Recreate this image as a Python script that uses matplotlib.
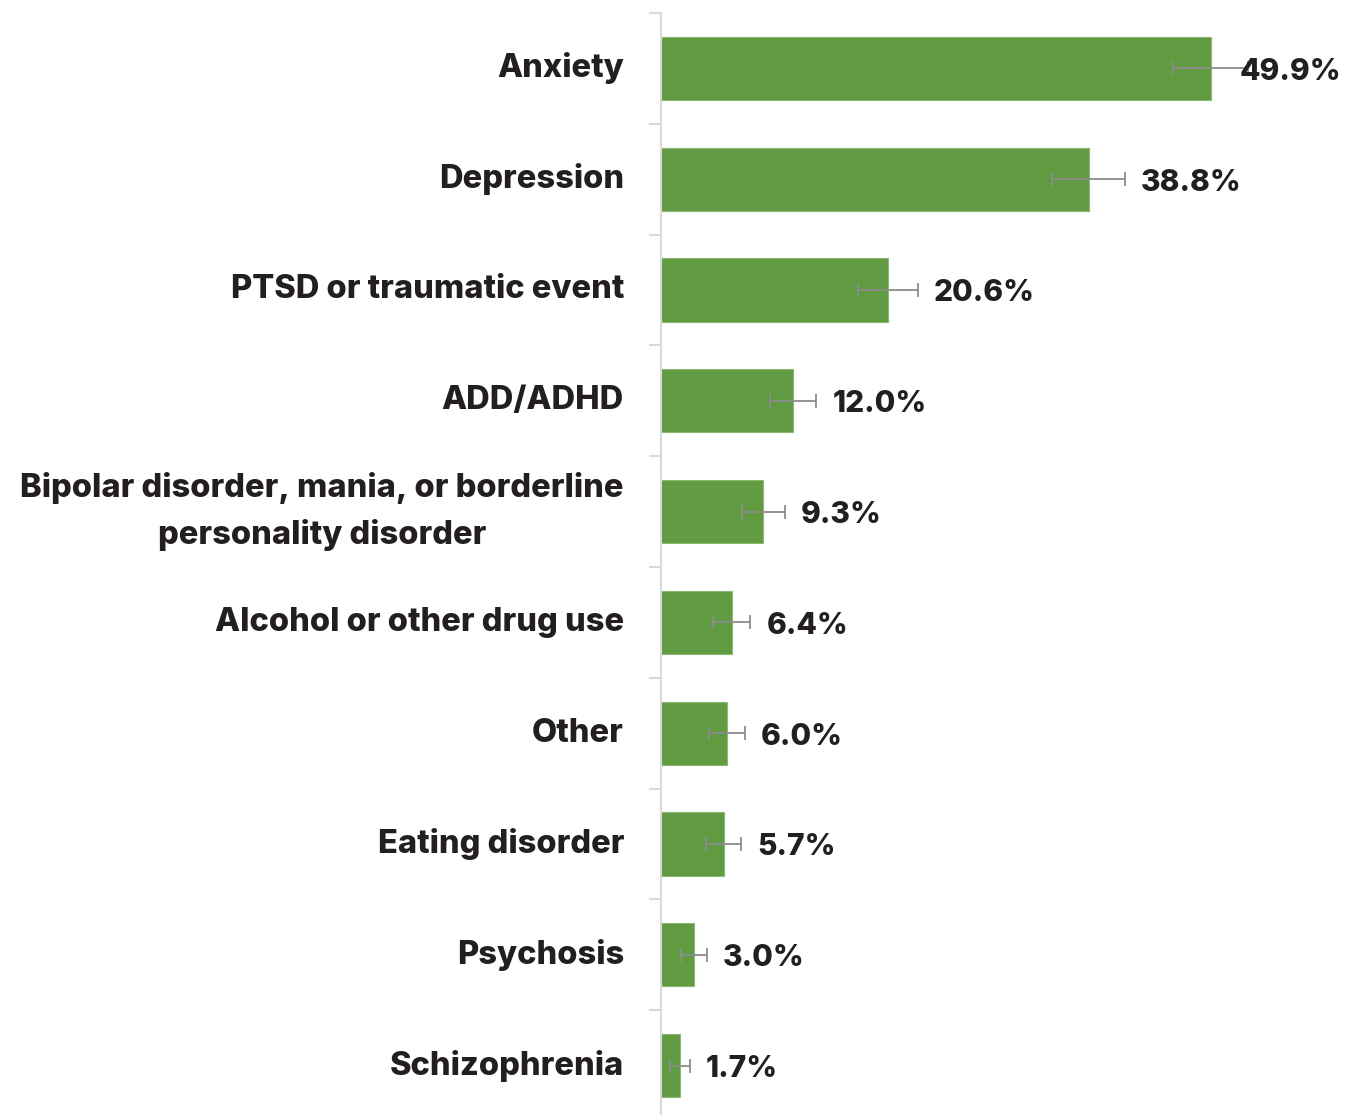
import matplotlib
matplotlib.use("Agg")
import matplotlib.pyplot as plt
import numpy as np

categories = [
    "Anxiety",
    "Depression",
    "PTSD or traumatic event",
    "ADD/ADHD",
    "Bipolar disorder, mania, or borderline\npersonality disorder",
    "Alcohol or other drug use",
    "Other",
    "Eating disorder",
    "Psychosis",
    "Schizophrenia",
]
values = [49.9, 38.8, 20.6, 12.0, 9.3, 6.4, 6.0, 5.7, 3.0, 1.7]
errors = [3.4, 3.3, 2.7, 2.1, 1.95, 1.7, 1.6, 1.6, 1.15, 0.9]
value_labels = ["49.9%", "38.8%", "20.6%", "12.0%", "9.3%", "6.4%", "6.0%", "5.7%", "3.0%", "1.7%"]

BAR_COLOR = "#609B41"
TEXT_COLOR = "#231F20"
ERR_COLOR = "#8C8C8C"
AXIS_COLOR = "#D9D9D9"

plt.rcParams["font.family"] = ["Inter", "DejaVu Sans"]

W, H = 1351, 1115
fig = plt.figure(figsize=(W / 100, H / 100), dpi=100)

# axes in pixel terms: left edge at x=661, top at y=13, 110.8 px per category
x_max = 61.0
px_per_pct = 11.02
left, top, step = 661, 13, 110.8
n = len(categories)
ax_w = x_max * px_per_pct
ax_h = n * step
ax = fig.add_axes([left / W, (H - top - ax_h) / H, ax_w / W, ax_h / H])

y = np.arange(n)
ax.barh(y, values, height=0.57, color=BAR_COLOR, edgecolor="#8DB873", linewidth=0.8, zorder=2)
ax.errorbar(values, y, xerr=errors, fmt="none", ecolor=ERR_COLOR, elinewidth=1.3,
            capsize=5, capthick=1.3, zorder=3)

ax.set_ylim(n - 0.5, -0.5)
ax.set_xlim(0, x_max)

offset = 16 / px_per_pct
for yi, v, e, lab in zip(y, values, errors, value_labels):
    xt = min(v + e + offset, 52.5)
    ax.text(xt, yi + 0.03, lab, ha="left", va="center", fontsize=21.5,
            fontweight=800, color=TEXT_COLOR, zorder=4)

for yi, cat in zip(y, categories):
    ax.text(-37 / px_per_pct, yi, cat, ha="right", va="center", multialignment="center",
            fontsize=23.5, fontweight=800, color=TEXT_COLOR, linespacing=1.6)

for s in ["top", "right", "bottom"]:
    ax.spines[s].set_visible(False)
ax.spines["left"].set_color(AXIS_COLOR)
ax.spines["left"].set_linewidth(1.5)
ax.set_xticks([])
ax.set_yticks(np.arange(n + 1) - 0.5)
ax.set_yticklabels([])
ax.tick_params(axis="y", length=9, width=1.5, color=AXIS_COLOR)

fig.savefig("out.png", dpi=100)
